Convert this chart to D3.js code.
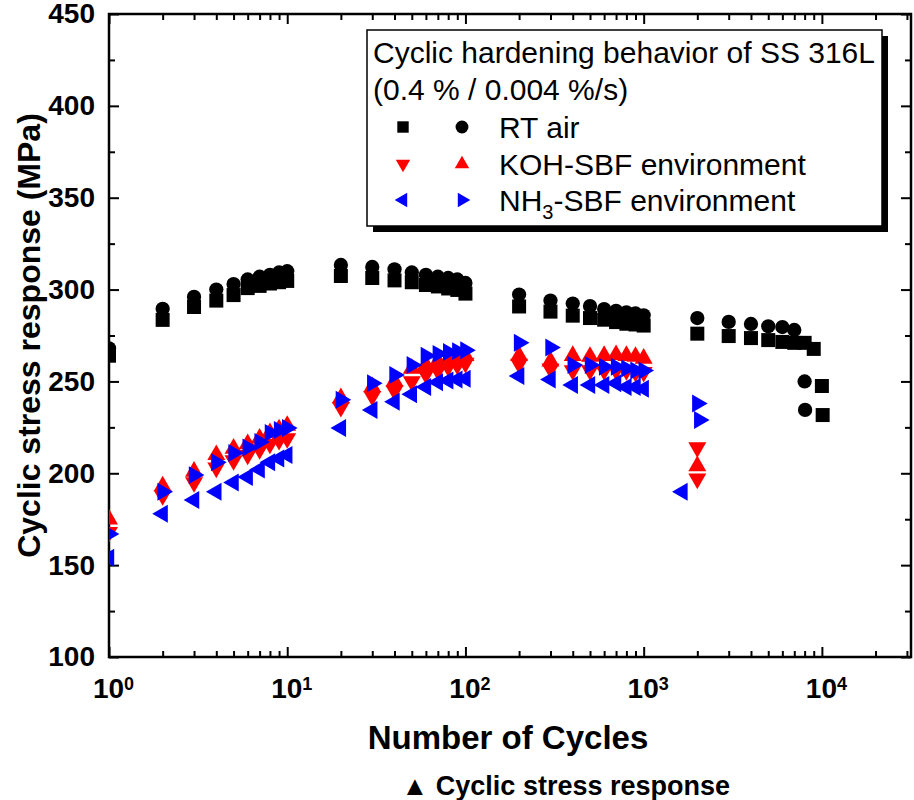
<!DOCTYPE html>
<html>
<head>
<meta charset="utf-8">
<script src="https://cdn.jsdelivr.net/npm/d3@7"></script>
<style>
body{margin:0;background:#fff;}
svg{font-family:"Liberation Sans",Arial,sans-serif;}
</style>
</head>
<body>
<svg id="chart" width="914" height="800"></svg>
<script>
// cycle numbers shared by most series
var cyc=[1,2,3,4,5,6,7,8,9,10,20,30,40,50,60,70,80,90,100,200,300,400,500,600,700,800,900,1000];

// RT air (squares / circles)
var rtSqN=cyc.concat([2000,3000,4000,5000,6000,7000,8000,9000,10000,10100]);
var rtSq=[264,283.5,290.5,294,297,300.8,302,303.3,304,304.7,
          307.4,306.3,305,304,302.5,301.7,300.6,299.8,297.8,
          290.8,288,285.8,284.5,283.6,282.3,281.4,281,280.4,
          276,274.7,273.6,272.5,271.5,271,271,267.7,247.5,231.7];
var rtCiN=cyc.concat([2000,3000,4000,5000,6000,7000,8000,8050]);
var rtCi=[268,289.5,296,300,303,305.5,307,308,309.3,310,
          313.4,312.3,311,309.3,308,307,306.3,305.5,303.6,
          297.3,294,292.4,291,289.4,288.4,287.6,287,286,
          284.5,282.4,281.3,280,279.6,278,250,234.5];

// KOH-SBF (down / up triangles)
var kohDnN=cyc.concat([2000,2000]);
var kohDn=[168,188,195,203,207,210,213,216,218,219,
           236,242,245,250,254,256,258,259,260,
           259.5,257,256,256,256,256,256,255,255,
           214,197];
var kohUpN=cyc.concat([2000]);
var kohUp=[175,193,201,210,213.5,216,219,222,224,226,
           241,247,250,257,259,261,262,263,264,
           264,261,264,263.5,264,264.5,264,263.5,262.5,
           204];

// NH3-SBF (left / right triangles)
var nhLtN=cyc.concat([1650]);
var nhLt=[154,178,185.5,190,195,198,202,206,208,210,
          224.7,234.5,239,243,247,249.5,250.5,251,251.5,
          253,251,248,248,248,249,247,247,246,
          190];
var nhRtN=cyc.concat([2000,2050]);
var nhRt=[167,190,199,206,211,214,217,222,223.5,224.6,
          240,249,253.5,259,264,265,266,266.5,267,
          271,268.5,259,259,258,258,257,256,256,
          238,229];

var xMajor=[1,10,100,1000,10000];
var yMajor=[100,150,200,250,300,350,400,450];
var yMinor=[125,175,225,275,325,375,425];

var svg=d3.select('#chart');
var pL=109,pR=911,pT=14,pB=657;

var x=d3.scaleLog().domain([1,Math.pow(10,4.5)]).range([pL,pR]);
var y=d3.scaleLinear().domain([100,450]).range([pB,pT]);

var xMinor=x.ticks().filter(function(d){
    return Math.abs(Math.log10(d)-Math.round(Math.log10(d)))>1e-9;
});

svg.append('clipPath').attr('id','plotclip')
    .append('rect').attr('x',pL).attr('y',pT)
    .attr('width',pR-pL).attr('height',pB-pT);

// ---- axes ----
function addAxis(axis,tx,ty){
    var g=svg.append('g').attr('transform','translate('+tx+','+ty+')').call(axis.tickSizeOuter(0));
    g.select('.domain').remove();
    g.selectAll('.tick line').attr('stroke','#000').attr('stroke-width',2);
    return g;
}
addAxis(d3.axisBottom(x).tickValues(xMinor).tickSize(-6).tickFormat(''),0,pB);
addAxis(d3.axisTop(x).tickValues(xMinor).tickSize(-6).tickFormat(''),0,pT);
addAxis(d3.axisTop(x).tickValues(xMajor).tickSize(-10).tickFormat(''),0,pT);
var gx=addAxis(d3.axisBottom(x).tickValues(xMajor).tickSize(-10).tickPadding(21).tickFormat(''),0,pB);
gx.selectAll('.tick text')
    .attr('font-size',28).attr('font-weight','bold').attr('fill','#000').attr('dx',4)
    .each(function(d){
        var t=d3.select(this);
        t.append('tspan').text('10');
        t.append('tspan').attr('dy','-0.42em').attr('font-size',18).text(Math.round(Math.log10(d)));
    });

addAxis(d3.axisLeft(y).tickValues(yMinor).tickSize(-6).tickFormat(''),pL,0);
addAxis(d3.axisRight(y).tickValues(yMinor).tickSize(-6).tickFormat(''),pR,0);
addAxis(d3.axisRight(y).tickValues(yMajor).tickSize(-10).tickFormat(''),pR,0);
var gy=addAxis(d3.axisLeft(y).tickValues(yMajor).tickSize(-10).tickPadding(14).tickFormat(d3.format('d')),pL,0);
gy.selectAll('.tick text').attr('font-size',28).attr('font-weight','bold').attr('fill','#000');

svg.append('rect').attr('x',pL).attr('y',pT)
    .attr('width',pR-pL).attr('height',pB-pT)
    .attr('fill','none').attr('stroke','#000').attr('stroke-width',2.5);

// ---- data marks ----
var plot=svg.append('g').attr('clip-path','url(#plotclip)');

function drawSeries(ns,vals,type,size,rot,color){
    var sym=d3.symbol().type(type).size(size);
    plot.append('g').selectAll('path').data(vals).enter().append('path')
        .attr('d',sym)
        .attr('fill',color)
        .attr('transform',function(d,i){
            return 'translate('+x(ns[i])+','+y(d)+') rotate('+rot+')';
        });
}
drawSeries(rtSqN,rtSq,d3.symbolSquare,196,0,'#000');
drawSeries(rtCiN,rtCi,d3.symbolCircle,160,0,'#000');
drawSeries(kohDnN,kohDn,d3.symbolTriangle,140,180,'#ff0000');
drawSeries(kohUpN,kohUp,d3.symbolTriangle,140,0,'#ff0000');
drawSeries(nhLtN,nhLt,d3.symbolTriangle,140,-90,'#0000ff');
drawSeries(nhRtN,nhRt,d3.symbolTriangle,140,90,'#0000ff');

// ---- legend ----
var lg=svg.append('g');
lg.append('rect').attr('x',373).attr('y',36).attr('width',515).attr('height',196).attr('fill','#000');
lg.append('rect').attr('x',367).attr('y',30).attr('width',515).attr('height',196)
    .attr('fill','#fff').attr('stroke','#000').attr('stroke-width',1.5);
lg.append('text').attr('x',373).attr('y',63).attr('font-size',30).text('Cyclic hardening behavior of SS 316L');
lg.append('text').attr('x',373).attr('y',100).attr('font-size',30).text('(0.4 % / 0.004 %/s)');

var legRows=[
    {a:[d3.symbolSquare,0],b:[d3.symbolCircle,0],color:'#000',size:[130,130]},
    {a:[d3.symbolTriangle,180],b:[d3.symbolTriangle,0],color:'#ff0000',size:[90,90]},
    {a:[d3.symbolTriangle,-90],b:[d3.symbolTriangle,90],color:'#0000ff',size:[90,90]}
];
var rowY=[127,164,200];
legRows.forEach(function(r,i){
    lg.append('path').attr('d',d3.symbol().type(r.a[0]).size(r.size[0]))
        .attr('fill',r.color).attr('transform','translate(403,'+rowY[i]+') rotate('+r.a[1]+')');
    lg.append('path').attr('d',d3.symbol().type(r.b[0]).size(r.size[1]))
        .attr('fill',r.color).attr('transform','translate(462,'+rowY[i]+') rotate('+r.b[1]+')');
});
lg.append('text').attr('x',499).attr('y',rowY[0]+11).attr('font-size',30).text('RT air');
lg.append('text').attr('x',499).attr('y',rowY[1]+11).attr('font-size',30).text('KOH-SBF environment');
var nh=lg.append('text').attr('x',499).attr('y',rowY[2]+11).attr('font-size',30);
nh.append('tspan').text('NH');
nh.append('tspan').attr('dy',8).attr('font-size',20).text('3');
nh.append('tspan').attr('dy',-8).text('-SBF environment');

// ---- axis titles ----
svg.append('text').attr('transform','translate(40,'+((pT+pB)/2)+') rotate(-90)')
    .attr('text-anchor','middle').attr('font-size',32).attr('font-weight','bold')
    .text('Cyclic stress response (MPa)');
svg.append('text').attr('x',(pL+pR)/2-2).attr('y',749)
    .attr('text-anchor','middle').attr('font-size',33).attr('font-weight','bold')
    .text('Number of Cycles');
svg.append('text').attr('x',730).attr('y',795)
    .attr('text-anchor','end').attr('font-size',27).attr('font-weight','bold')
    .text('\u25B2 Cyclic stress response');
</script>
</body>
</html>
